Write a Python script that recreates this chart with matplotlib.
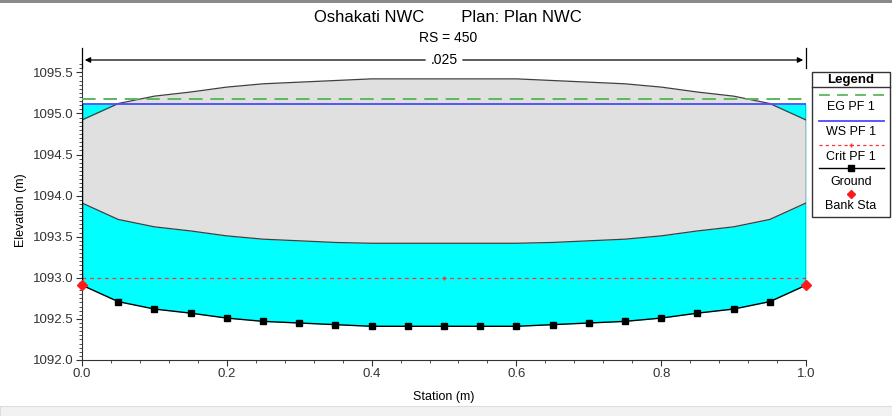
import matplotlib
matplotlib.use("Agg")
import matplotlib.pyplot as plt
from matplotlib.ticker import MultipleLocator
from matplotlib.lines import Line2D
from matplotlib.patches import Rectangle, FancyArrowPatch

plt.rcParams['font.family'] = ['Liberation Sans', 'DejaVu Sans']

# ---- data ----
station = [0.0, 0.05, 0.10, 0.15, 0.20, 0.25, 0.30, 0.35, 0.40, 0.45, 0.50,
           0.55, 0.60, 0.65, 0.70, 0.75, 0.80, 0.85, 0.90, 0.95, 1.0]
ground = [1092.91, 1092.71, 1092.62, 1092.57, 1092.51, 1092.47, 1092.45, 1092.43,
          1092.41, 1092.41, 1092.41, 1092.41, 1092.41, 1092.43, 1092.45, 1092.47,
          1092.51, 1092.57, 1092.62, 1092.71, 1092.91]
low_chord = [1093.91, 1093.71, 1093.62, 1093.57, 1093.51, 1093.47, 1093.45, 1093.43,
             1093.42, 1093.42, 1093.42, 1093.42, 1093.42, 1093.43, 1093.45, 1093.47,
             1093.51, 1093.57, 1093.62, 1093.71, 1093.91]
high_chord = [1094.92, 1095.12, 1095.21, 1095.26, 1095.32, 1095.36, 1095.38, 1095.40,
              1095.42, 1095.42, 1095.42, 1095.42, 1095.42, 1095.40, 1095.38, 1095.36,
              1095.32, 1095.26, 1095.21, 1095.12, 1094.92]
eg_pf1 = 1095.17
ws_pf1 = 1095.11
crit_pf1 = 1093.00
bank_sta = [0.0, 1.0]
bank_elev = [1092.91, 1092.91]
mann_n = ".025"
title = "Oshakati NWC        Plan: Plan NWC"
subtitle = "RS = 450"
legend_labels = ["EG PF 1", "WS PF 1", "Crit PF 1", "Ground", "Bank Sta"]

W, H = 892, 416
fig = plt.figure(figsize=(W / 100, H / 100), dpi=100)
ax = fig.add_axes([82 / W, 1 - 360 / H, 724 / W, 299 / H])

ax.set_xlim(0, 1)
ax.set_ylim(1092.0, 1092.0 + 299 / 82.2)

# water fill
ax.fill_between(station, ground, ws_pf1, color='#00ffff', zorder=1, linewidth=0)
# deck / lid
ax.fill_between(station, low_chord, high_chord, color='#e0e0e0', zorder=2, linewidth=0)
ax.plot(station, low_chord, color='#404040', lw=0.9, zorder=3)
ax.plot(station, high_chord, color='#404040', lw=0.9, zorder=3)

# lines
ax.axhline(eg_pf1, color='#5cb85c', lw=1.4, dashes=(7, 4), zorder=4)
ax.axhline(ws_pf1, color='#4a4aff', lw=1.3, zorder=4)
ax.axhline(crit_pf1, color='#ff3030', lw=0.9, dashes=(3, 3), zorder=4)
ax.plot([0.5], [crit_pf1], marker='+', color='#ff3030', ms=3, zorder=5)

# ground
ax.plot(station, ground, color='black', lw=1.0, zorder=5)
ax.plot(station[1:-1], ground[1:-1], ls='none', marker='s', color='black', ms=4, zorder=6)
ax.plot([1.0, 1.0], [ground[-1], ws_pf1], color='black', lw=1.0, zorder=5)
ax.plot([0.0, 0.0], [ground[0], ws_pf1], color='black', lw=1.0, zorder=5)
ax.plot(bank_sta, bank_elev, ls='none', marker='D', color='#ff1a1a', ms=5,
        zorder=7, clip_on=False)

# axes style
for s in ['top', 'right']:
    ax.spines[s].set_visible(False)
ax.spines['left'].set_color('#333333')
ax.spines['bottom'].set_color('#333333')
ax.xaxis.set_major_locator(MultipleLocator(0.2))
ax.xaxis.set_minor_locator(MultipleLocator(0.04))
ax.yaxis.set_major_locator(MultipleLocator(0.5))
ax.yaxis.set_minor_locator(MultipleLocator(0.05))
ax.xaxis.set_major_formatter(plt.FuncFormatter(lambda v, p: f"{v:.1f}"))
ax.yaxis.set_major_formatter(plt.FuncFormatter(lambda v, p: f"{v:.1f}"))
ax.tick_params(which='major', length=4, width=0.8, labelsize=9.5, colors='#333333', pad=2)
ax.tick_params(which='minor', length=2, width=0.6, colors='#333333')
ax.set_xlabel("Station (m)", fontsize=9, labelpad=8)
ax.set_ylabel("Elevation (m)", fontsize=9, labelpad=4)

def fy(py):
    return 1 - py / H

def fx(px):
    return px / W

# Manning's n arrow
arrow_y = fy(60)
fig.add_artist(Line2D([fx(82), fx(82)], [fy(48), fy(68)], color='black', lw=0.9))
fig.add_artist(Line2D([fx(806), fx(806)], [fy(48), fy(68)], color='black', lw=0.9))
fig.patches.append(FancyArrowPatch(
    (fx(428), arrow_y), (fx(82), arrow_y), transform=fig.transFigure,
    arrowstyle='-|>', mutation_scale=8, color='black', lw=0.9))
fig.patches.append(FancyArrowPatch(
    (fx(460), arrow_y), (fx(806), arrow_y), transform=fig.transFigure,
    arrowstyle='-|>', mutation_scale=8, color='black', lw=0.9))
fig.text(fx(444), arrow_y, mann_n, ha='center', va='center', fontsize=10)

# titles
fig.text(fx(448), fy(18), title, ha='center', va='center', fontsize=12)
fig.text(fx(448), fy(38), subtitle, ha='center', va='center', fontsize=10)

# legend box
fig.patches.append(Rectangle((fx(812), fy(217)), (890 - 812) / W, (217 - 72) / H,
                             transform=fig.transFigure, facecolor='white',
                             edgecolor='#333333', lw=1.0))
fig.add_artist(Line2D([fx(812), fx(890)], [fy(87), fy(87)], color='#333333', lw=1.0))
cx = fx(851)
fig.text(cx, fy(80), "Legend", ha='center', va='center', fontsize=9.5, fontweight='bold')
fig.add_artist(Line2D([fx(819), fx(884)], [fy(95), fy(95)], color='#5cb85c', lw=1.3,
                      dashes=(6, 4)))
fig.text(cx, fy(107), legend_labels[0], ha='center', va='center', fontsize=9)
fig.add_artist(Line2D([fx(819), fx(884)], [fy(121), fy(121)], color='#4a4aff', lw=1.3))
fig.text(cx, fy(132), legend_labels[1], ha='center', va='center', fontsize=9)
fig.add_artist(Line2D([fx(819), fx(884)], [fy(145), fy(145)], color='#ff3030', lw=0.9,
                      dashes=(2.5, 2.5)))
fig.add_artist(Line2D([cx], [fy(145)], marker='+', color='#ff3030', ms=3))
fig.text(cx, fy(157), legend_labels[2], ha='center', va='center', fontsize=9)
fig.add_artist(Line2D([fx(819), fx(884)], [fy(168), fy(168)], color='black', lw=1.0))
fig.add_artist(Line2D([cx], [fy(168)], marker='s', color='black', ms=4))
fig.text(cx, fy(182), legend_labels[3], ha='center', va='center', fontsize=9)
fig.add_artist(Line2D([cx], [fy(194)], marker='D', color='#ff1a1a', ms=4))
fig.text(cx, fy(206), legend_labels[4], ha='center', va='center', fontsize=9)

# window chrome
fig.patches.append(Rectangle((0, fy(3)), 1, 3 / H, transform=fig.transFigure,
                             facecolor='#8a8a8a', edgecolor='none'))
fig.patches.append(Rectangle((0, 0), 1, fy(406), transform=fig.transFigure,
                             facecolor='#f2f2f2', edgecolor='#dddddd', lw=0.8))

fig.savefig("out.png", dpi=100)
